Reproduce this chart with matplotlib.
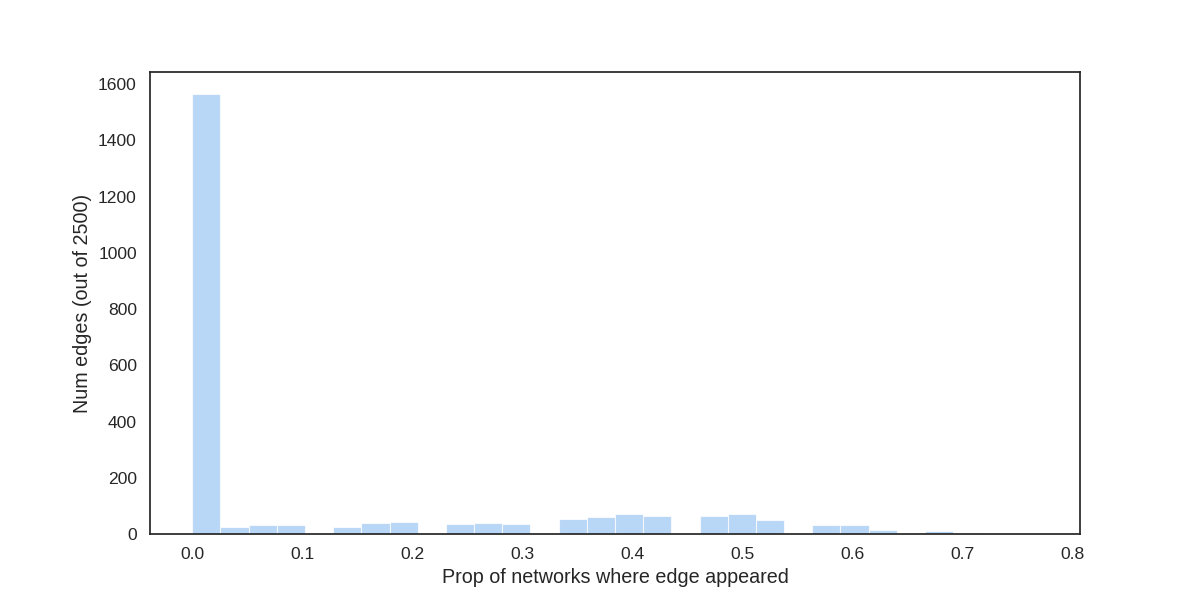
import numpy as np
import matplotlib
matplotlib.use("Agg")
import matplotlib.pyplot as plt
import seaborn as sns

# histogram of edge appearance proportions, 30 bins from 0 to max value
prop_max = 0.768
n_bins = 30
counts = [1565, 26, 31, 31, 0, 26, 38, 41, 0, 34,
          38, 34, 0, 52, 59, 70, 63, 0, 63, 72,
          51, 0, 31, 31, 15, 0, 10, 4, 0, 1]

sns.set_theme(style="white", palette="pastel")
plt.rcParams['font.family'] = ['Liberation Sans', 'DejaVu Sans']
plt.rcParams['xtick.labelsize'] = 12.6
plt.rcParams['ytick.labelsize'] = 12.6
plt.rcParams['axes.labelsize'] = 14.2

edges = np.linspace(0, prop_max, n_bins + 1)
centers = (edges[:-1] + edges[1:]) / 2

fig, ax = plt.subplots(figsize=(12, 6), dpi=100)
ax.hist(centers, bins=edges, weights=counts,
        color=sns.color_palette("pastel")[0], alpha=0.75,
        edgecolor="white", linewidth=0.8)
ax.margins(x=0.05, y=0.05)
ax.set_xlabel("Prop of networks where edge appeared")
ax.set_ylabel("Num edges (out of 2500)")

plt.savefig("out.png")
